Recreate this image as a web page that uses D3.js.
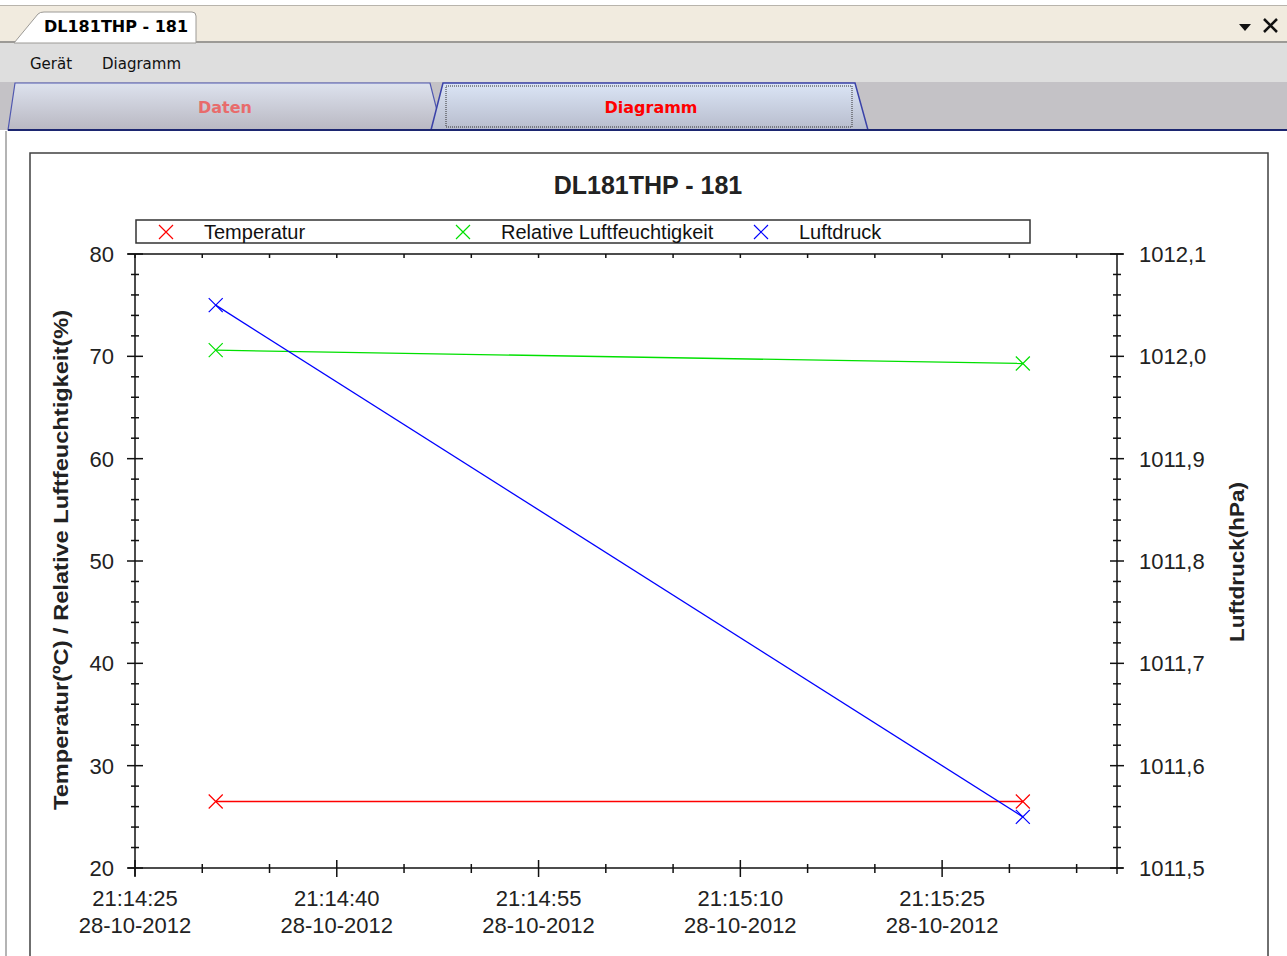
<!DOCTYPE html>
<html>
<head>
<meta charset="utf-8">
<title>DL181THP - 181</title>
<script src="https://cdn.jsdelivr.net/npm/d3@7"></script>
<style>
body { margin: 0; background: #fff; overflow: hidden; }
svg text { font-family: "Liberation Sans", Arial, sans-serif; }
svg text.ui { font-family: "DejaVu Sans", Tahoma, sans-serif; }
.tick-lbl { font-size: 22px; fill: #222; }
.legend-lbl { font-size: 20px; fill: #111; }
.axis-title { font-size: 21px; font-weight: bold; fill: #222; }
</style>
</head>
<body>
<script>

// Daten
var seriesNames = ["Temperatur", "Relative Luftfeuchtigkeit", "Luftdruck"];
var seriesColors = ["#ff0000", "#00e000", "#0000ff"];
var times = ["21:14:31", "21:15:31"];
var temperatur = [26.5, 26.5];
var feuchte = [70.6, 69.3];
var luftdruck = [1012.05, 1011.55];
var datum = "28-10-2012";
var xStart = "21:14:25", xEnd = "21:15:38";
var leftTicks = [20, 30, 40, 50, 60, 70, 80];
var rightTicks = ["1011,5", "1011,6", "1011,7", "1011,8", "1011,9", "1012,0", "1012,1"];

function t(s) {
  var p = s.split(":");
  return new Date(2012, 9, 28, +p[0], +p[1], +p[2]);
}

var W = 1287, H = 956;
var svg = d3.select("body").append("svg").attr("width", W).attr("height", H);

// ---- Fensterrahmen / Tabs ----
svg.append("rect").attr("x", 0).attr("y", 5).attr("width", W).attr("height", 37).attr("fill", "#f1ebdf");
svg.append("line").attr("x1", 0).attr("x2", W).attr("y1", 5.5).attr("y2", 5.5).attr("stroke", "#b8b4ac");
svg.append("rect").attr("x", 0).attr("y", 42).attr("width", W).attr("height", 40).attr("fill", "#dedede");
svg.append("line").attr("x1", 0).attr("x2", W).attr("y1", 42).attr("y2", 42).attr("stroke", "#9c9a96").attr("stroke-width", 2);
svg.append("path").attr("d", "M14,43 L38,14 Q40,12 44,12 L192,12 Q196,12 196,16 L196,43 Z")
  .attr("fill", "#fff").attr("stroke", "#9c9a96");
svg.append("text").attr("class", "ui").attr("x", 44).attr("y", 32).attr("font-size", 16).attr("font-weight", "bold")
  .attr("fill", "#000").text("DL181THP - 181");
svg.append("path").attr("d", "M1239,24 L1251,24 L1245,31 Z").attr("fill", "#111");
svg.append("path").attr("d", "M1264,19 L1277,32 M1277,19 L1264,32").attr("stroke", "#111").attr("stroke-width", 2.5);

svg.append("text").attr("class", "ui").attr("x", 30).attr("y", 69).attr("font-size", 15).attr("fill", "#111").text("Gerät");
svg.append("text").attr("class", "ui").attr("x", 102).attr("y", 69).attr("font-size", 15).attr("fill", "#111").text("Diagramm");

svg.append("rect").attr("x", 0).attr("y", 82).attr("width", W).attr("height", 48).attr("fill", "#c4c2c6");
var defs = svg.append("defs");
var g1 = defs.append("linearGradient").attr("id", "tabA").attr("x1", 0).attr("x2", 0).attr("y1", 0).attr("y2", 1);
g1.append("stop").attr("offset", "0%").attr("stop-color", "#dde2ee");
g1.append("stop").attr("offset", "100%").attr("stop-color", "#b9b8c2");
var g2 = defs.append("linearGradient").attr("id", "tabB").attr("x1", 0).attr("x2", 0).attr("y1", 0).attr("y2", 1);
g2.append("stop").attr("offset", "0%").attr("stop-color", "#dbe5f6");
g2.append("stop").attr("offset", "100%").attr("stop-color", "#b7bccc");
svg.append("path").attr("d", "M8,130 L15,83 L430,83 L442,130 Z").attr("fill", "url(#tabA)").attr("stroke", "#5058b0").attr("stroke-width", 1.2);
svg.append("path").attr("d", "M431,130 L443,83 L855,83 L868,130 Z").attr("fill", "url(#tabB)").attr("stroke", "#3a42a8").attr("stroke-width", 1.5);
svg.append("rect").attr("x", 446).attr("y", 86).attr("width", 406).attr("height", 41).attr("fill", "none")
  .attr("stroke", "#333").attr("stroke-dasharray", "1,1");
svg.append("text").attr("class", "ui").attr("x", 225).attr("y", 113).attr("text-anchor", "middle").attr("font-size", 16).attr("font-weight", "bold")
  .attr("fill", "#e86b6b").text("Daten");
svg.append("text").attr("class", "ui").attr("x", 651).attr("y", 113).attr("text-anchor", "middle").attr("font-size", 16).attr("font-weight", "bold")
  .attr("fill", "#ff0000").text("Diagramm");
svg.append("line").attr("x1", 8).attr("x2", W).attr("y1", 130).attr("y2", 130).attr("stroke", "#1c2670").attr("stroke-width", 2);
svg.append("line").attr("x1", 6).attr("x2", 6).attr("y1", 131).attr("y2", H).attr("stroke", "#b4b4b4").attr("stroke-width", 2);

// Diagrammrahmen
svg.append("rect").attr("x", 30).attr("y", 153).attr("width", 1238).attr("height", 900)
  .attr("fill", "#fff").attr("stroke", "#404040").attr("stroke-width", 1.5);

// ---- Skalen ----
var pLeft = 135, pRight = 1117, pTop = 254, pBottom = 868;
var x = d3.scaleTime().domain([t(xStart), t(xEnd)]).range([pLeft, pRight]);
var yL = d3.scaleLinear().domain([20, 80]).range([pBottom, pTop]);
var yR = d3.scaleLinear().domain([1011.5, 1012.1]).range([pBottom, pTop]);

var ax = svg.append("g").attr("stroke", "#111").attr("stroke-width", 1.5);
ax.append("line").attr("x1", pLeft - 7).attr("x2", pRight + 6).attr("y1", pTop).attr("y2", pTop);
ax.append("line").attr("x1", pLeft - 7).attr("x2", pRight + 6).attr("y1", pBottom).attr("y2", pBottom);
ax.append("line").attr("x1", pLeft).attr("x2", pLeft).attr("y1", pTop).attr("y2", pBottom + 8);
ax.append("line").attr("x1", pRight).attr("x2", pRight).attr("y1", pTop).attr("y2", pBottom + 6);

var x0 = +t(xStart);
var xMinor = x.ticks(d3.timeSecond.every(5));
var isMajor = d => ((+d - x0) / 1000) % 15 === 0;
var xMajor = xMinor.filter(isMajor);
ax.selectAll(null).data(xMinor).join("line")
  .attr("x1", d => x(d)).attr("x2", d => x(d))
  .attr("y1", d => isMajor(d) ? pBottom - 8 : pBottom - 4)
  .attr("y2", d => isMajor(d) ? pBottom + 9 : pBottom + 5);
ax.selectAll(null).data(xMinor).join("line")
  .attr("x1", d => x(d)).attr("x2", d => x(d)).attr("y1", pTop).attr("y2", pTop + 4);

var lMinor = d3.range(20, 80.01, 2);
ax.selectAll(null).data(lMinor).join("line")
  .attr("y1", d => yL(d)).attr("y2", d => yL(d))
  .attr("x1", d => d % 10 === 0 ? pLeft - 8 : pLeft - 4)
  .attr("x2", d => d % 10 === 0 ? pLeft + 8 : pLeft + 4);
var rMinor = d3.range(0, 31).map(i => 1011.5 + i * 0.02);
ax.selectAll(null).data(rMinor).join("line")
  .attr("y1", d => yR(d)).attr("y2", d => yR(d))
  .attr("x1", (d, i) => i % 5 === 0 ? pRight - 7 : pRight - 4)
  .attr("x2", (d, i) => i % 5 === 0 ? pRight + 7 : pRight + 4);

// Beschriftungen
var fmtT = d3.timeFormat("%H:%M:%S");
var xl = svg.append("g");
xl.selectAll(null).data(xMajor).join("text").attr("class", "tick-lbl")
  .attr("x", d => x(d)).attr("y", 906).attr("text-anchor", "middle").text(d => fmtT(d));
xl.selectAll(null).data(xMajor).join("text").attr("class", "tick-lbl")
  .attr("x", d => x(d)).attr("y", 933).attr("text-anchor", "middle").text(datum);
svg.selectAll(null).data(leftTicks).join("text").attr("class", "tick-lbl")
  .attr("x", 114).attr("y", d => yL(d) + 8).attr("text-anchor", "end").text(d => d);
svg.selectAll(null).data(rightTicks).join("text").attr("class", "tick-lbl")
  .attr("x", 1139).attr("y", d => yR(+d.replace(",", ".")) + 8).text(d => d);

svg.append("text").attr("class", "axis-title").attr("text-anchor", "middle")
  .attr("textLength", 500).attr("lengthAdjust", "spacingAndGlyphs")
  .attr("transform", "translate(68,560) rotate(-90)").text("Temperatur(ºC) / Relative Luftfeuchtigkeit(%)");
svg.append("text").attr("class", "axis-title").attr("text-anchor", "middle")
  .attr("textLength", 160).attr("lengthAdjust", "spacingAndGlyphs")
  .attr("transform", "translate(1244,562) rotate(-90)").text("Luftdruck(hPa)");
svg.append("text").attr("x", 648).attr("y", 194).attr("text-anchor", "middle")
  .attr("font-size", 25).attr("font-weight", "bold").attr("fill", "#222").text("DL181THP - 181");

// Legende
svg.append("rect").attr("x", 136).attr("y", 220).attr("width", 894).attr("height", 23)
  .attr("fill", "#fff").attr("stroke", "#333").attr("stroke-width", 1.5);
var legX = [166, 463, 761];
function cross(sel, cx, cy, col) {
  sel.append("path").attr("d", "M" + (cx - 7) + "," + (cy - 7) + "L" + (cx + 7) + "," + (cy + 7) +
    "M" + (cx + 7) + "," + (cy - 7) + "L" + (cx - 7) + "," + (cy + 7))
    .attr("stroke", col).attr("stroke-width", 1.2).attr("fill", "none");
}
seriesNames.forEach(function(n, i) {
  cross(svg, legX[i], 232, seriesColors[i]);
  svg.append("text").attr("class", "legend-lbl").attr("x", legX[i] + 38).attr("y", 239).text(n);
});

// Linien
var series = [
  { vals: temperatur, y: yL },
  { vals: feuchte, y: yL },
  { vals: luftdruck, y: yR }
];
series.forEach(function(s, i) {
  var pts = times.map((tt, j) => [x(t(tt)), s.y(s.vals[j])]);
  svg.append("path").attr("d", d3.line()(pts)).attr("fill", "none")
    .attr("stroke", seriesColors[i]).attr("stroke-width", 1.3);
  pts.forEach(p => cross(svg, p[0], p[1], seriesColors[i]));
});
</script>
</body>
</html>
